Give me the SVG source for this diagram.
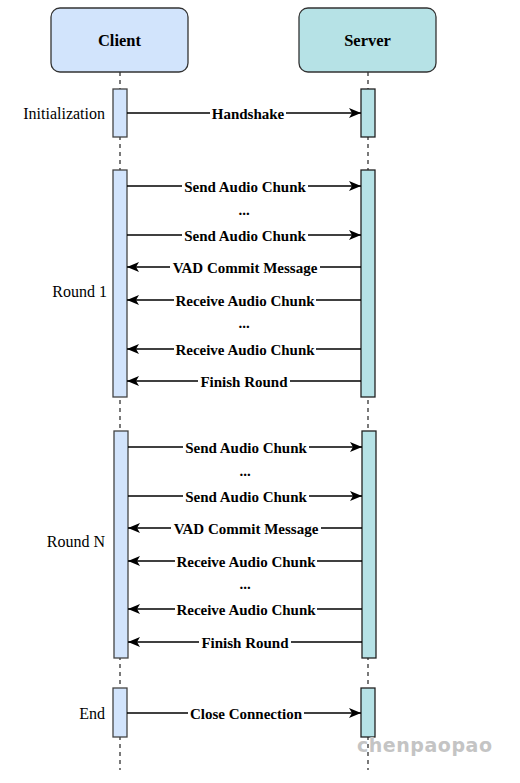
<svg xmlns="http://www.w3.org/2000/svg" width="520" height="783" viewBox="0 0 520 783">
<style>
.hdr{stroke:#333;stroke-width:1.3}
.life{stroke:#333;stroke-width:1.3;stroke-dasharray:4 4;fill:none}
.cbar{fill:#d2e4fc;stroke:#444;stroke-width:1.3}
.sbar{fill:#b6e2e6;stroke:#222;stroke-width:1.3}
.msg{stroke:#000;stroke-width:1.4;fill:none}
.ml{font-family:"Liberation Serif",serif;font-weight:bold;font-size:15px;text-anchor:middle;fill:#000}
.bg{fill:#fff}
.side{font-family:"Liberation Serif",serif;font-size:16px;text-anchor:end;fill:#000}
.title{font-family:"Liberation Serif",serif;font-weight:bold;font-size:16.5px;text-anchor:middle;fill:#000}
</style>
<defs>
<marker id="ah" viewBox="0 0 12 10" refX="12" refY="5" markerWidth="12" markerHeight="10" markerUnits="userSpaceOnUse" orient="auto">
<path d="M0,0 L12,5 L0,10 L3,5 Z" fill="#000"/>
</marker>
</defs>
<rect width="520" height="783" fill="#fff"/>
<g id="lifelines">
<line class="life" x1="120" y1="72" x2="120" y2="770"/>
<line class="life" x1="368" y1="72" x2="368" y2="770"/>
</g>
<g id="client">
<rect class="hdr" x="51" y="8" width="137" height="64" rx="9" fill="#d2e4fc"/>
<text class="title" x="119.5" y="46">Client</text>
</g>
<g id="server">
<rect class="hdr" x="299" y="8" width="137" height="64" rx="9" fill="#b6e2e6"/>
<text class="title" x="367.5" y="46">Server</text>
</g>
<g id="activations">
<rect class="cbar" x="113" y="89" width="14" height="48"/>
<rect class="sbar" x="361" y="89" width="14" height="48"/>
<rect class="cbar" x="113" y="170" width="14" height="227"/>
<rect class="sbar" x="361" y="170" width="14" height="227"/>
<rect class="cbar" x="114" y="431" width="14" height="227"/>
<rect class="sbar" x="362" y="431" width="14" height="227"/>
<rect class="cbar" x="113" y="688" width="14" height="49"/>
<rect class="sbar" x="361" y="688" width="14" height="49"/>
</g>
<g id="phase-labels">
<text class="side" x="105" y="119">Initialization</text>
<text class="side" x="107" y="297">Round 1</text>
<text class="side" x="105" y="547">Round N</text>
<text class="side" x="105" y="719">End</text>
</g>
<g id="connectors">
<line class="msg" x1="127" y1="113" x2="361" y2="113" marker-end="url(#ah)"/>
<line class="msg" x1="127" y1="186" x2="361" y2="186" marker-end="url(#ah)"/>
<line class="msg" x1="127" y1="235" x2="361" y2="235" marker-end="url(#ah)"/>
<line class="msg" x1="361" y1="267" x2="127" y2="267" marker-end="url(#ah)"/>
<line class="msg" x1="361" y1="300" x2="127" y2="300" marker-end="url(#ah)"/>
<line class="msg" x1="361" y1="349" x2="127" y2="349" marker-end="url(#ah)"/>
<line class="msg" x1="361" y1="381" x2="127" y2="381" marker-end="url(#ah)"/>
<line class="msg" x1="128" y1="447" x2="362" y2="447" marker-end="url(#ah)"/>
<line class="msg" x1="128" y1="496" x2="362" y2="496" marker-end="url(#ah)"/>
<line class="msg" x1="362" y1="528" x2="128" y2="528" marker-end="url(#ah)"/>
<line class="msg" x1="362" y1="561" x2="128" y2="561" marker-end="url(#ah)"/>
<line class="msg" x1="362" y1="609" x2="128" y2="609" marker-end="url(#ah)"/>
<line class="msg" x1="362" y1="642" x2="128" y2="642" marker-end="url(#ah)"/>
<line class="msg" x1="127" y1="713" x2="361" y2="713" marker-end="url(#ah)"/>
</g>
<g id="message-labels">
<rect class="bg" x="210" y="106" width="76" height="15"/><text class="ml" x="248" y="119">Handshake</text>
<rect class="bg" x="182" y="179" width="126" height="15"/><text class="ml" x="245" y="192">Send Audio Chunk</text>
<text class="ml" x="244" y="215">...</text>
<rect class="bg" x="182" y="228" width="126" height="15"/><text class="ml" x="245" y="241">Send Audio Chunk</text>
<rect class="bg" x="170" y="260" width="150" height="15"/><text class="ml" x="245" y="273">VAD Commit Message</text>
<rect class="bg" x="174" y="293" width="142" height="15"/><text class="ml" x="245" y="306">Receive Audio Chunk</text>
<text class="ml" x="244" y="328">...</text>
<rect class="bg" x="174" y="342" width="142" height="15"/><text class="ml" x="245" y="355">Receive Audio Chunk</text>
<rect class="bg" x="198" y="374" width="92" height="15"/><text class="ml" x="244" y="387">Finish Round</text>
<rect class="bg" x="183" y="440" width="126" height="15"/><text class="ml" x="246" y="453">Send Audio Chunk</text>
<text class="ml" x="245" y="476">...</text>
<rect class="bg" x="183" y="489" width="126" height="15"/><text class="ml" x="246" y="502">Send Audio Chunk</text>
<rect class="bg" x="171" y="521" width="150" height="15"/><text class="ml" x="246" y="534">VAD Commit Message</text>
<rect class="bg" x="175" y="554" width="142" height="15"/><text class="ml" x="246" y="567">Receive Audio Chunk</text>
<text class="ml" x="245" y="589">...</text>
<rect class="bg" x="175" y="602" width="142" height="15"/><text class="ml" x="246" y="615">Receive Audio Chunk</text>
<rect class="bg" x="199" y="635" width="92" height="15"/><text class="ml" x="245" y="648">Finish Round</text>
<rect class="bg" x="188" y="706" width="116" height="15"/><text class="ml" x="246" y="719">Close Connection</text>
</g>
<text x="357" y="752" textLength="135" font-family="'DejaVu Sans',sans-serif" font-size="19" font-weight="bold" fill="#c4c4c4">chenpaopao</text>
</svg>
